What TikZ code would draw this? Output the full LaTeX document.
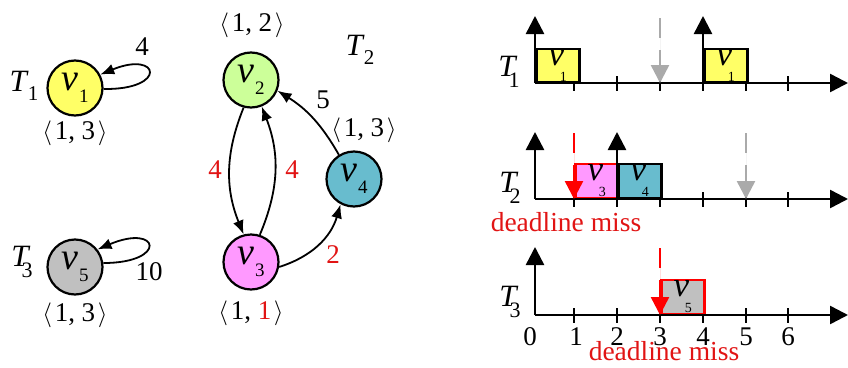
\documentclass[tikz,border=0pt]{standalone}
\usepackage{fontspec}
\setmainfont{Liberation Serif}
\usetikzlibrary{arrows.meta}
\definecolor{cyel}{RGB}{255,255,102}
\definecolor{cgrn}{RGB}{204,255,153}
\definecolor{cpnk}{RGB}{255,153,255}
\definecolor{cteal}{RGB}{104,188,206}
\definecolor{cgry}{RGB}{192,192,192}
\definecolor{cred}{RGB}{225,20,20}
\definecolor{cbred}{RGB}{255,0,0}
\definecolor{cdash}{RGB}{170,170,170}
\newcommand{\fs}[1]{\fontsize{#1}{#1}\selectfont}
\newcommand{\cv}[1]{\textit{v}\kern0.02em\raisebox{-0.32em}{\fs{19}#1}}
\newcommand{\bv}[1]{\textit{v}\kern-0.12em\raisebox{-0.45em}{\fs{14}#1}}
\newcommand{\tl}[1]{\textit{T}\kern-0.02em\raisebox{-0.3em}{\fs{21}#1}}
\newcommand{\tlo}[1]{\textit{T}\kern-0.28em\raisebox{-0.35em}{\fs{22}#1}}
\newcommand{\ang}[2]{$\langle$\kern0.1em 1, #2\kern0.1em$\rangle$}
\tikzset{
  vert/.style={circle,draw,line width=2.2pt,minimum size=55pt,inner sep=0pt,font=\fs{38}},
  lbl/.style={inner sep=0pt,font=\fs{27}},
  tlab/.style={inner sep=0pt,font=\fs{31}},
  edge/.style={line width=1.8pt,-{Latex[length=14pt,width=11pt]}},
  ax/.style={line width=2.5pt,-{Triangle[length=18pt,width=18pt]}},
  tk/.style={line width=2.5pt},
  job/.style={draw,line width=2.5pt,font=\fs{35},inner sep=0pt},
  dl/.style={line width=2.5pt,dash pattern=on 20pt off 12pt on 60pt,-{Triangle[length=18pt,width=18pt]}},
  miss/.style={inner sep=0pt,font=\fs{27.5},text=cred}
}
\begin{document}
\begin{tikzpicture}[x=1pt,y=-1pt]
\useasboundingbox (0,0) rectangle (848,367);
% ---------- graph ----------
\node[vert,fill=cyel] (v1) at (75,88) {\cv{1}};
\node[vert,fill=cgry] (v5) at (75,267) {\cv{5}};
\node[vert,fill=cgrn] (v2) at (251,80) {\cv{2}};
\node[vert,fill=cpnk] (v3) at (251,262) {\cv{3}};
\node[vert,fill=cteal] (v4) at (354,179) {\cv{4}};

\node[tlab] (t1) at (24,86) {\tl{1}};
\node[tlab] (t3) at (22,262) {\tlo{3}};
\node[tlab] (t2) at (360,50) {\tl{2}};

\node[lbl] (a1) at (75,133) {\ang{1}{3}};
\node[lbl] (a5) at (75,315) {\ang{1}{3}};
\node[lbl] (a2) at (252,25) {\ang{1}{2}};
\node[lbl] (a4) at (364,130) {\ang{1}{3}};
\node[lbl] (a3) at (251,313) {\ang{1}{\textcolor{cred}{1}}};

\draw[edge] (v1.-2) .. controls (168,90) and (160,50) .. (v1.28);
\draw[edge] (v5.8) .. controls (168,263) and (160,223) .. (v5.38);
\node[lbl] (w1) at (142,47) {4};
\node[lbl] (w5) at (149,272) {10};

\draw[edge] (v2.255) to[bend right=22] (v3.105);
\draw[edge] (v3.72) to[bend right=22] (v2.-68);
\draw[edge] (v4.122) to[bend right=14] (v2.-22);
\draw[edge] (v3.-10) to[bend right=28] (v4.-118);
\node[lbl,text=cred] (w23) at (215,170) {4};
\node[lbl,text=cred] (w32) at (292,170) {4};
\node[lbl] (w42) at (323,100) {5};
\node[lbl,text=cred] (w34) at (333,255) {2};

% ---------- schedule ----------
\foreach \yy/\nm in {83/A,199/B,315/C}{
  \coordinate (o\nm) at (535,\yy);
  \coordinate (e\nm) at (848,\yy);
  \foreach \xx in {574,617,660,703,746,788}{
    \draw[tk] (\xx,\yy-7) -- (\xx,\yy+8);
  }
}
% jobs
\node[job,fill=cyel,minimum width=43pt,minimum height=33pt,anchor=south west] (j1) at (535,83) {\bv{1}};
\node[job,fill=cyel,minimum width=43pt,minimum height=33pt,anchor=south west] (j2) at (703,83) {\bv{1}};
\node[job,draw=cbred,fill=cpnk,minimum width=43pt,minimum height=34pt,anchor=south west] (j3) at (574,199) {\bv{3}};
\node[job,fill=cteal,minimum width=43pt,minimum height=34pt,anchor=south west] (j4) at (617,199) {\bv{4}};
\node[job,draw=cbred,fill=cgry,minimum width=43pt,minimum height=34pt,anchor=south west] (j5) at (660,315) {\bv{5}};
% axes
\coordinate (tA0) at (535,16); \coordinate (tA4) at (703,16);
\coordinate (bA4) at (703,83);
\coordinate (tB0) at (535,132); \coordinate (tB2) at (617,132);
\coordinate (bB2) at (617,199);
\coordinate (tC0) at (535,247);
\draw[ax] (oA) -- (eA);
\draw[ax] (oB) -- (eB);
\draw[ax] (oC) -- (eC);
\draw[ax] (oA) -- (tA0);
\draw[ax] (bA4) -- (tA4);
\draw[ax] (oB) -- (tB0);
\draw[ax] (bB2) -- (tB2);
\draw[ax] (oC) -- (tC0);
% deadline arrows
\coordinate (gA1) at (660,18); \coordinate (gA2) at (660,83);
\coordinate (gB1) at (746,133); \coordinate (gB2) at (746,199);
\coordinate (rB1) at (574,133); \coordinate (rB2) at (574,199);
\coordinate (rC1) at (660,248); \coordinate (rC2) at (660,315);
\draw[dl,draw=cdash,fill=cdash] (gA1) -- (gA2);
\draw[dl,draw=cdash,fill=cdash] (gB1) -- (gB2);
\draw[dl,draw=cbred,fill=cbred] (rB1) -- (rB2);
\draw[dl,draw=cbred,fill=cbred] (rC1) -- (rC2);
% labels
\node[tlab] (s1) at (509,72) {\tlo{1}};
\node[tlab] (s2) at (510,188) {\tlo{2}};
\node[tlab] (s3) at (510,302) {\tlo{3}};
\foreach \xx/\nn in {530/0,576/1,617/2,660/3,703/4,746/5,788/6}{
  \node[lbl] (n\nn) at (\xx,337) {\nn};
}
\node[miss] (m1) at (566,222) {deadline miss};
\node[miss] (m2) at (664,351) {deadline miss};
\end{tikzpicture}
\end{document}
